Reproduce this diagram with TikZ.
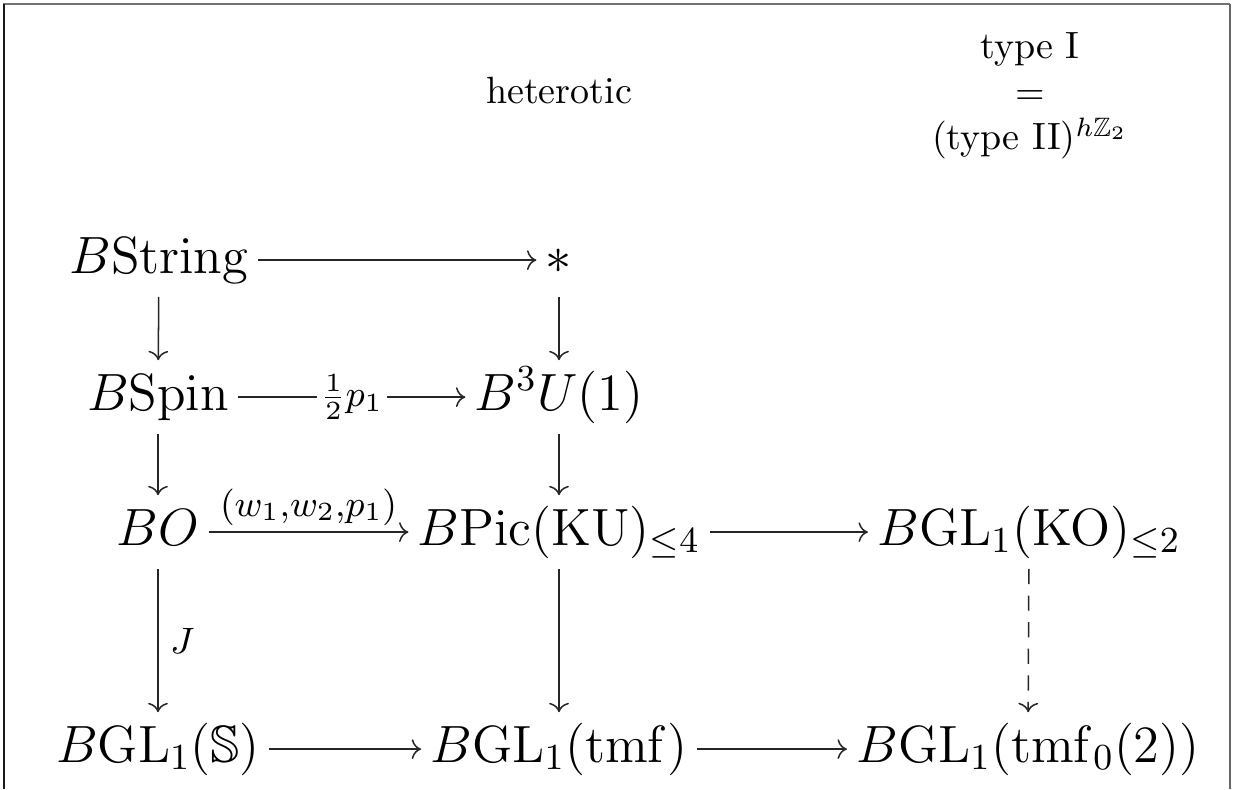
\RequirePackage{fix-cm}
\documentclass[tikz,border=0pt]{standalone}
\usepackage{amsmath,amssymb}
\usetikzlibrary{cd}
\begin{document}
\begin{tikzpicture}[x=0.2632pt,y=-0.2632pt,
  obj/.style={font=\fontsize{13.8}{16}\selectfont, anchor=base, text height=10.4pt, text depth=3.6pt, inner xsep=2.3pt, inner ysep=2.5pt},
  lab/.style={font=\normalsize},
  elab/.style={font=\fontsize{13.8}{16}\selectfont},
  arr/.style={->, >=cm to, line width=0.4pt, draw=black!85},
  framel/.style={line width=0.6pt}]
\useasboundingbox (0,0) rectangle (1233,789);
\draw[framel, draw=black!55] (3,4) -- (1230,4);
\draw[framel, draw=black!90] (4,4) -- (4,789);
\draw[framel, draw=black!60] (1230,4) -- (1230,789);

\node[lab, anchor=base] (het) at (559,103) {heterotic};
\node[lab, align=center] (typeI) at (1030,96) {type I\\$=$\\(type II)$^{h\mathbb{Z}_2}$};

\node[obj] (bstring) at (159,273) {$B\mathrm{String}$};
\node[obj] (star) at (559,273) {$*$};
\node[obj] (bspin) at (158,410) {$B\mathrm{Spin}$};
\node[obj] (b3u) at (559,410) {$B^3U(1)$};
\node[obj] (bo) at (158,545) {$BO$};
\node[obj] (bpic) at (559,545) {$B\mathrm{Pic}(\mathrm{KU})_{\leq 4}$};
\node[obj] (bglko) at (1029,545) {$B\mathrm{GL}_1(\mathrm{KO})_{\leq 2}$};
\node[obj] (bgls) at (158,762) {$B\mathrm{GL}_1(\mathbb{S})$};
\node[obj] (bgltmf) at (559,762) {$B\mathrm{GL}_1(\mathrm{tmf})$};
\node[obj] (bgltmf0) at (1028,762) {$B\mathrm{GL}_1(\mathrm{tmf}_0(2))$};

\draw[arr] (bstring) -- (star);
\draw[arr] (bspin) -- node[elab, fill=white, inner sep=1pt] (half) {$\scriptstyle\frac{1}{2}p_1$} (b3u);
\draw[arr] (bo) -- node[elab, above, inner sep=1.5pt] (wlab) {$\scriptstyle(w_1,w_2,p_1)$} (bpic);
\draw[arr] (bpic) -- (bglko);
\draw[arr] (bgls) -- (bgltmf);
\draw[arr] (bgltmf) -- (bgltmf0);

\draw[arr] (bstring) -- (bspin);
\draw[arr] (bspin) -- (bo);
\draw[arr] (bo) -- node[elab, right, inner sep=3pt] (jlab) {$\scriptstyle J$} (bgls);
\draw[arr] (star) -- (b3u);
\draw[arr] (b3u) -- (bpic);
\draw[arr] (bpic) -- (bgltmf);
\draw[arr, dash pattern=on 4pt off 3pt] (bglko) -- (bgltmf0);
\end{tikzpicture}
\end{document}
